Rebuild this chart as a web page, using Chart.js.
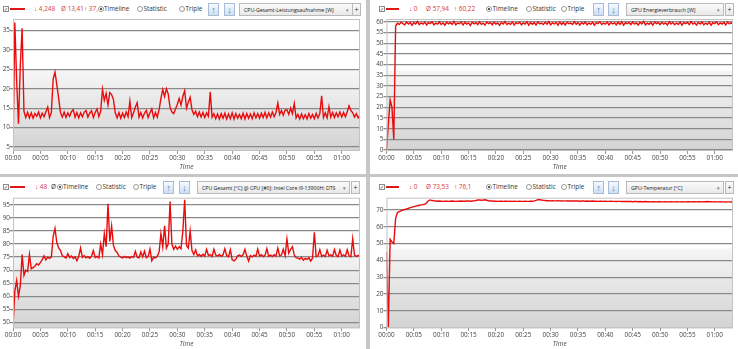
<!DOCTYPE html>
<html>
<head>
<meta charset="utf-8">
<script src="https://cdn.jsdelivr.net/npm/chart.js@4.4.1/dist/chart.umd.min.js"></script>
<style>
  body { margin:0; width:738px; height:349px; overflow:hidden; background:#fff; position:relative; font-family:"Open Sans", sans-serif; }
  canvas { position:absolute; }
  .t { position:absolute; font-size:6.4px; line-height:8px; color:#333; white-space:nowrap; }
  .red { color:#d5383c; }
  .cb { position:absolute; width:4px; height:4px; border:1px solid #8c8c8c; background:#fff; font-size:5px; line-height:4px; text-align:center; color:#333; }
  .ln { position:absolute; height:2px; background:#e01818; }
  .rd { position:absolute; width:4px; height:4px; border:1px solid #9a9a9a; border-radius:50%; background:#fff; }
  .rd.on::after { content:""; position:absolute; left:1px; top:1px; width:2px; height:2px; border-radius:50%; background:#222; }
  .btn { position:absolute; width:9px; height:11px; border:1px solid #a9bcd6; background:linear-gradient(#f7faff,#cfdef2); color:#3a7ad8; font-size:9px; line-height:11px; text-align:center; font-weight:bold; }
  .dd { position:absolute; height:11px; border:1px solid #b9b9b9; background:linear-gradient(#fbfbfb,#e8e8e8); overflow:hidden; }
  .dd span { position:absolute; top:1.5px; font-size:5.3px; letter-spacing:-0.05px; line-height:8px; color:#222; white-space:nowrap; }
  .plus { position:absolute; width:7px; height:11px; border:1px solid #b9b9b9; background:linear-gradient(#fbfbfb,#e8e8e8); font-size:7px; line-height:11px; text-align:center; color:#333; }
  .sep { position:absolute; background:#c6c6c6; }
</style>
</head>
<body>
<div id="page"></div>
<canvas id="cTL" width="366" height="174" style="left:0;top:0"></canvas>
<canvas id="cTR" width="368" height="174" style="left:370px;top:0"></canvas>
<canvas id="cBL" width="366" height="172" style="left:0;top:177px"></canvas>
<canvas id="cBR" width="368" height="172" style="left:370px;top:177px"></canvas>
<script>
// one sample every 20 s, 00:00 .. 01:03:20
const STEP = 20;
const X_MAX = 3800;
const timeLabels = ['00:00','00:05','00:10','00:15','00:20','00:25','00:30','00:35','00:40','00:45','00:50','00:55','01:00'];

const cpuPowerTicks = [5, 10, 15, 20, 25, 30, 35];
const gpuPowerTicks = [0, 5, 10, 15, 20, 25, 30, 35, 40, 45, 50, 55, 60];
const cpuTempTicks = [50, 55, 60, 65, 70, 75, 80, 85, 90, 95];
const gpuTempTicks = [0, 10, 20, 30, 40, 50, 60, 70];

// CPU-Gesamt-Leistungsaufnahme [W]
const cpuPower = [
  4.3, 37, 22, 11, 26, 35.5, 14.2, 12.6, 13.9, 12.5,
  13.8, 12.4, 13.6, 12.9, 14.0, 12.5, 13.7, 12.8, 14.1, 15.3,
  12.6, 13.9, 22.5, 24.3, 21, 17.5, 13.9, 12.7, 14.0, 12.6,
  13.8, 12.9, 14.1, 14.6, 12.7, 13.9, 12.5, 13.8, 12.8, 14.0,
  14.4, 12.7, 13.7, 14.3, 12.6, 13.9, 14.8, 12.8, 14.2, 19.8,
  17, 18.8, 15.8, 19, 18.5, 17.2, 13.8, 12.5, 13.9, 12.4,
  13.7, 12.6, 14.0, 12.8, 16.8, 12.6, 13.8, 15.3, 16.4, 12.7,
  13.9, 12.5, 13.7, 14.4, 12.6, 13.8, 14.8, 12.5, 13.9, 12.7,
  14.6, 17.5, 19.8, 18, 20, 18.6, 15.2, 14, 13.6, 14.8,
  16, 17.5, 15.8, 18, 19.5, 15, 16.5, 17.8, 14.6, 13.4,
  14.2, 12.8, 14.0, 12.7, 13.9, 12.6, 13.8, 12.9, 19.2, 12.7,
  13.6, 12.3, 13.5, 12.2, 13.6, 12.4, 13.7, 12.2, 13.5, 12.3,
  13.8, 12.2, 13.6, 12.4, 13.4, 12.3, 13.7, 12.2, 13.6, 12.4,
  13.5, 12.3, 13.8, 12.5, 13.6, 12.4, 13.7, 12.6, 13.9, 12.5,
  13.8, 12.7, 14.0, 12.8, 13.9, 16.3, 13.4, 14.4, 13.2, 14.5,
  14.6, 13.4, 15.0, 13.6, 16.2, 12.5, 13.4, 12.2, 13.5, 12.3,
  13.3, 12.2, 13.6, 12.4, 13.4, 12.3, 13.7, 12.5, 13.6, 18.2,
  12.6, 13.8, 12.5, 15.4, 12.7, 13.9, 12.6, 13.8, 12.8, 14.0,
  12.7, 13.9, 12.8, 14.1, 15.6, 14.4, 13.8, 12.7, 13.6, 12.5,
  13.2
];

// GPU Energieverbrauch [W]
const gpuPower = [
  0, 12, 23.5, 20, 5, 58, 59.3, 58.8, 59.8, 59.1,
  58.6, 59.9, 58.9, 59.6, 58.4, 59.7, 59.0, 60.1, 58.7, 59.5,
  58.9, 59.8, 58.5, 59.6, 59.1, 60.0, 58.6, 59.4, 58.9, 59.9,
  58.7, 59.5, 58.4, 59.8, 59.0, 59.6, 58.8, 60.2, 58.6, 59.4,
  59.1, 59.9, 58.5, 59.7, 58.9, 59.5, 58.3, 59.8, 59.0, 59.6,
  58.7, 60.0, 58.8, 59.4, 58.5, 59.9, 59.1, 59.6, 58.6, 59.8,
  58.9, 59.5, 58.4, 59.7, 59.0, 60.1, 58.7, 59.4, 58.8, 59.9,
  58.5, 59.6, 59.1, 59.8, 58.6, 59.5, 58.9, 60.0, 58.4, 59.7,
  58.8, 59.6, 58.5, 59.9, 59.0, 59.4, 58.7, 59.8, 58.9, 60.1,
  58.6, 59.5, 59.0, 59.7, 58.4, 59.9, 58.8, 59.6, 58.5, 59.8,
  59.1, 59.4, 58.7, 60.0, 58.9, 59.6, 58.5, 59.7, 59.0, 59.9,
  58.6, 59.5, 58.8, 59.8, 58.4, 59.6, 59.1, 60.1, 58.7, 59.4,
  58.9, 59.9, 58.5, 59.7, 59.0, 59.5, 58.6, 59.8, 58.8, 60.0,
  58.4, 59.6, 59.1, 59.7, 58.7, 59.9, 58.9, 59.5, 58.5, 59.8,
  59.0, 60.2, 58.6, 59.4, 58.8, 59.7, 58.4, 59.9, 59.1, 59.6,
  58.7, 59.8, 58.9, 59.5, 58.5, 60.0, 59.0, 59.7, 58.6, 59.4,
  58.8, 59.9, 58.4, 59.6, 59.1, 59.8, 58.7, 60.1, 58.9, 59.5,
  58.5, 59.7, 59.0, 59.9, 58.6, 59.4, 58.8, 59.8, 58.4, 59.6,
  59.1, 60.0, 58.7, 59.5, 58.9, 59.7, 58.5, 59.9, 59.0, 59.6,
  58.8
];

// CPU Gesamt [°C]
const cpuTemp = [
  48.5, 62, 66, 60, 64, 76, 68, 70, 69.5, 76,
  70.5, 71, 71.5, 72.5, 72, 73, 74, 75.5, 74, 75,
  74.5, 75, 83, 86, 80.5, 78.5, 77.5, 75.5, 75.2, 74.6,
  76.3, 74.8, 75.4, 74.5, 75.1, 73.6, 75.3, 78.5, 74.9, 75.5,
  74.7, 75.2, 74.6, 75.4, 77.5, 74.8, 75.3, 74.7, 80, 76,
  84, 79, 95.5, 81, 87, 79.5, 77.5, 76.8, 75.4, 75.0,
  74.7, 75.3, 74.8, 75.1, 74.6, 75.2, 74.9, 77.2, 75.0, 74.7,
  77.0, 75.1, 77.3, 74.8, 75.2, 78.1, 73.6, 75.0, 74.7, 75.3,
  77, 84, 79, 87, 78.5, 80, 96.3, 80, 78, 79.2,
  78, 79, 78.2, 85, 97, 79.5, 78.5, 85, 77.5, 76,
  77.8, 75.5, 76, 75.3, 76.1, 75.4, 78, 75.6, 76, 75.2,
  78, 75.8, 75.4, 76, 75.3, 75.9, 78.2, 75.6, 75.1, 77.8,
  74, 73.6, 74.2, 75.5, 75.8, 75.2, 75.9, 78, 75.4, 73.5,
  75.6, 75.1, 75.8, 75.3, 78.1, 75.4, 75.9, 75.2, 75.7, 78.3,
  75.3, 75.8, 75.2, 75.9, 75.4, 78.5, 75.5, 75.8, 78, 75.5,
  82, 76.5, 78, 79, 75.8, 74.8, 74.6, 74.2, 74.9, 73.8,
  74.5, 74.1, 74.8, 73.5, 74.6, 84.5, 75.2, 75.5, 77.8, 75.3,
  75.8, 75.2, 77.6, 75.5, 75.9, 75.3, 77.9, 75.6, 75.2, 77.7,
  75.4, 75.9, 75.3, 77.8, 75.5, 75.2, 82, 75.8, 75.3, 75.6,
  75.4
];

// GPU-Temperatur [°C]
const gpuTemp = [
  45, 0, 52.5, 51, 50, 65, 68.5, 69, 69.5, 70,
  70.3, 70.6, 71, 71.4, 71.7, 72, 72.3, 72.5, 72.8, 73,
  73.2, 73.4, 74.3, 75.5, 76, 75.6, 75.4, 75.3, 75.2, 75.3,
  75.2, 75.1, 75.2, 75.2, 75.1, 75.2, 75.3, 75.2, 75.1, 75.2,
  75.2, 75.3, 75.2, 75.2, 75.3, 75.3, 75.2, 75.3, 75.4, 75.6,
  75.9, 76.0, 75.8, 75.9, 76.1, 75.8, 75.5, 75.3, 75.3, 75.2,
  75.2, 75.1, 75.2, 75.2, 75.1, 75.2, 75.2, 75.1, 75.2, 75.1,
  75.2, 75.1, 75.1, 75.2, 75.1, 75.1, 75.2, 75.1, 75.1, 75.2,
  75.2, 75.4, 75.7, 76.1, 76.2, 75.9, 75.7, 75.6, 75.5, 75.5,
  75.4, 75.5, 75.4, 75.4, 75.5, 75.4, 75.3, 75.4, 75.4, 75.3,
  75.4, 75.3, 75.3, 75.4, 75.3, 75.3, 75.2, 75.3, 75.3, 75.2,
  75.3, 75.2, 75.2, 75.3, 75.2, 75.2, 75.1, 75.2, 75.2, 75.1,
  75.2, 75.1, 75.1, 75.2, 75.1, 75.1, 75.0, 75.1, 75.1, 75.0,
  75.1, 75.0, 75.0, 75.1, 75.0, 74.9, 75.0, 75.0, 74.9, 75.0,
  74.9, 74.9, 75.0, 74.9, 74.9, 74.8, 74.9, 74.9, 74.8, 74.9,
  74.9, 74.8, 74.8, 74.9, 74.8, 74.8, 74.9, 74.8, 74.8, 74.9,
  74.8, 74.8, 74.9, 74.8, 74.8, 74.9, 74.9, 74.8, 74.9, 74.9,
  74.8, 74.9, 74.9, 74.8, 74.9, 74.9, 75.0, 74.9, 74.9, 74.8,
  74.9, 74.8, 74.8, 74.9, 74.8, 74.8, 74.7, 74.8, 74.8, 74.7,
  74.8
];

// header bars (absolute page coordinates)
const headers = [
  { cy: 9, cb: 3, line: [10, 25], stats: [[34, '↓ 4,248', true], [61, 'Ø 13,41', true], [84, '↑ 37,', true]],
    radios: [97.5, 137, 179], up: 208, down: 224, dd: [239, 112, 'CPU-Gesamt-Leistungsaufnahme [W]'], plus: 352 },
  { cy: 9, cb: 379, line: [386, 399], stats: [[409, '↓ 0', true], [426, 'Ø 57,94', true], [454, '↑ 60,22', true]],
    radios: [486, 526, 561], up: 593, down: 608, dd: [626, 96, 'GPU Energieverbrauch [W]'], plus: 725 },
  { cy: 187, cb: 3, line: [10, 25], stats: [[35, '↓ 48', true], [51, 'Ø', false]],
    radios: [56.5, 96, 133], up: 163, down: 179, dd: [197, 151, 'CPU Gesamt [°C] @ CPU [#0]: Intel Core i9-13900H: DTS'], plus: 351 },
  { cy: 187, cb: 379, line: [386, 399], stats: [[409, '↓ 0', true], [426, 'Ø 73,53', true], [454, '↑ 76,1', true]],
    radios: [486, 526, 561], up: 593, down: 608, dd: [626, 96, 'GPU-Temperatur [°C]'], plus: 725 }
];
const radioLabels = ['Timeline', 'Statistic', 'Triple'];

function renderHeader(h) {
  const top = h.cy - 4;
  return `
    <div class="cb" style="left:${h.cb}px;top:${h.cy - 3}px">✓</div>
    <div class="ln" style="left:${h.line[0]}px;top:${h.cy - 1}px;width:${h.line[1] - h.line[0]}px"></div>
    ${h.stats.map(s => `<div class="t ${s[2] ? 'red' : ''}" style="left:${s[0]}px;top:${top}px">${s[1]}</div>`).join('')}
    ${h.radios.map((x, i) => `
      <div class="rd ${i === 0 ? 'on' : ''}" style="left:${x}px;top:${h.cy - 3}px"></div>
      <div class="t" style="left:${x + 6.5}px;top:${top}px;background:#fff">${radioLabels[i]}</div>`).join('')}
    <div class="btn" style="left:${h.up}px;top:${h.cy - 6}px">↑</div>
    <div class="btn" style="left:${h.down}px;top:${h.cy - 6}px">↓</div>
    <div class="dd" style="left:${h.dd[0]}px;top:${h.cy - 6}px;width:${h.dd[1]}px">
      <span style="left:4px">${h.dd[2]}</span>
      <span style="right:3px;color:#777">▾</span>
    </div>
    <div class="plus" style="left:${h.plus}px;top:${h.cy - 6}px">+</div>
  `;
}

document.getElementById('page').innerHTML = headers.map(renderHeader).join('') + `
  <div class="sep" style="left:366px;top:0;width:4px;height:349px"></div>
  <div class="sep" style="left:0;top:174px;width:738px;height:3px"></div>
`;

// white upper half, grey gradient lower half, thin frame
const plotBg = {
  id: 'plotBg',
  beforeDraw(chart) {
    const { ctx, chartArea: a } = chart;
    const g = ctx.createLinearGradient(0, a.top, 0, a.bottom);
    g.addColorStop(0, '#ffffff');
    g.addColorStop(0.38, '#ffffff');
    g.addColorStop(0.4, '#f5f5f5');
    g.addColorStop(1, '#d3d3d3');
    ctx.save();
    ctx.fillStyle = g;
    ctx.fillRect(a.left, a.top, a.right - a.left, a.bottom - a.top);
    ctx.restore();
  },
  afterDraw(chart) {
    const { ctx, chartArea: a } = chart;
    ctx.save();
    ctx.strokeStyle = '#c2c2c2';
    ctx.lineWidth = 1;
    ctx.strokeRect(a.left + 0.5, a.top + 0.5, a.right - a.left - 1, a.bottom - a.top - 1);
    ctx.restore();
  }
};

const tickFont = { family: '"Open Sans", sans-serif', size: 6.4 };

function drawPanel(id, series, yMin, yMax, yTicks, lay) {
  new Chart(document.getElementById(id), {
    type: 'line',
    data: {
      datasets: [{
        data: series.map((v, i) => ({ x: i * STEP, y: v })),
        borderColor: '#e80c0c', borderWidth: 1.4, pointRadius: 0, tension: 0, fill: false
      }]
    },
    options: {
      responsive: false, animation: false, events: [],
      layout: { padding: { top: lay.top, right: lay.right, left: 0, bottom: 0 } },
      plugins: { legend: { display: false }, tooltip: { enabled: false } },
      scales: {
        x: {
          type: 'linear', min: 0, max: X_MAX,
          afterBuildTicks: s => { s.ticks = timeLabels.map((_, i) => ({ value: i * 300 })); },
          afterFit: s => { s.height = lay.xh; },
          grid: { drawOnChartArea: false, tickLength: 3, color: '#9a9a9a' },
          border: { display: false },
          ticks: { font: tickFont, color: '#444', padding: 0, maxRotation: 0, autoSkip: false,
                   callback: (v, i) => timeLabels[i] },
          title: { display: true, text: 'Time', color: '#444',
                   font: { family: '"Open Sans", sans-serif', size: 6.5, style: 'italic' },
                   padding: { top: 0, bottom: lay.tb } }
        },
        y: {
          min: yMin, max: yMax,
          afterBuildTicks: s => { s.ticks = yTicks.map(v => ({ value: v })); },
          afterFit: s => { s.width = lay.yw; },
          grid: { color: '#8a8a8a', lineWidth: 1.3, tickLength: 3 },
          border: { display: false },
          ticks: { font: tickFont, color: '#444', padding: 0 }
        }
      }
    },
    plugins: [plotBg]
  });
}

drawPanel('cTL', cpuPower, 4, 37.9, cpuPowerTicks, { top: 19, right: 6, xh: 23, yw: 13, tb: 3 });
drawPanel('cTR', gpuPower, -0.4, 61.3, gpuPowerTicks, { top: 19, right: 5, xh: 23, yw: 16.5, tb: 3 });
drawPanel('cBL', cpuTemp, 47.7, 97.8, cpuTempTicks, { top: 20.7, right: 6, xh: 20.7, yw: 13, tb: 0.5 });
drawPanel('cBR', gpuTemp, -0.2, 77.3, gpuTempTicks, { top: 20.7, right: 5, xh: 21, yw: 16.5, tb: 0.5 });
</script>
</body>
</html>
